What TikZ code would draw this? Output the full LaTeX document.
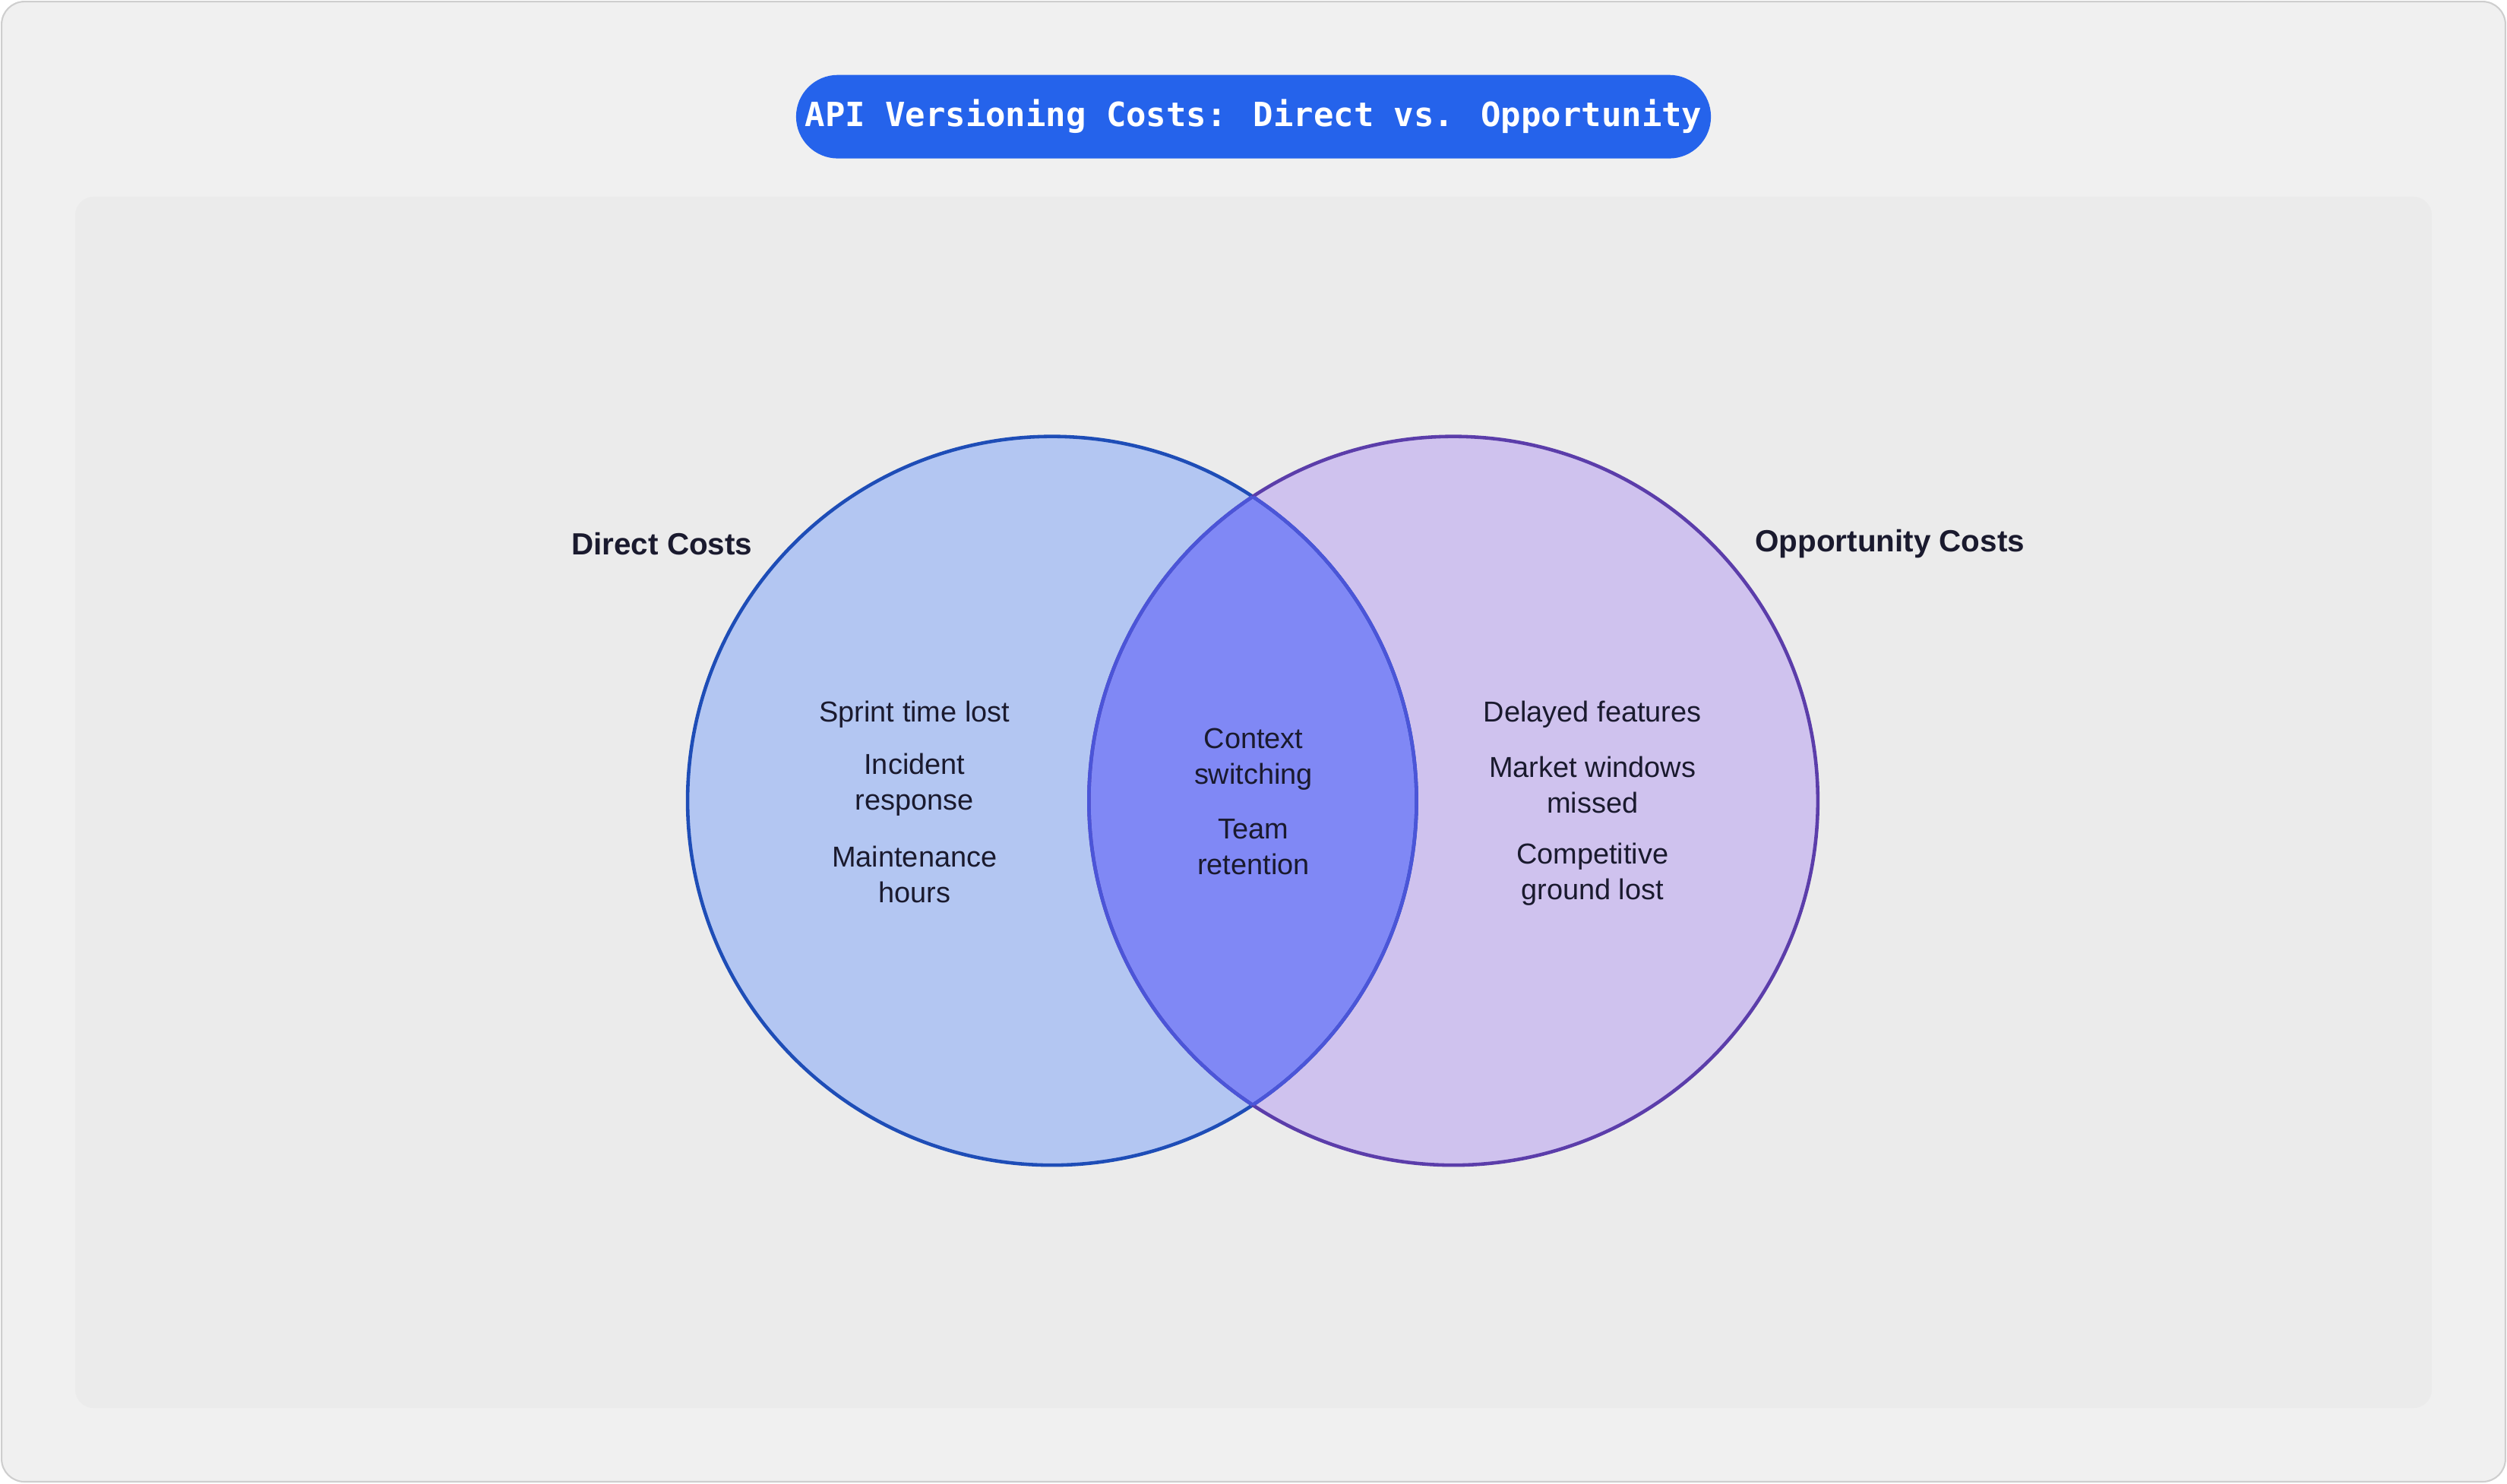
\documentclass[tikz,border=0pt]{standalone}
\usepackage{fontspec}
\setmainfont{Liberation Sans}
\newfontfamily\titlefont{DejaVu Sans Mono}
\usepackage{xcolor}
\definecolor{pagebg}{HTML}{F0F0F0}
\definecolor{panelbg}{HTML}{EBEBEB}
\definecolor{titleblue}{HTML}{2563EB}
\definecolor{directfill}{HTML}{B3C6F2}
\definecolor{directline}{HTML}{1E4DB7}
\definecolor{oppfill}{HTML}{CFC2EE}
\definecolor{oppline}{HTML}{5B3DAA}
\definecolor{bothfill}{HTML}{8088F5}
\definecolor{bothline}{HTML}{4B55D8}
\definecolor{txt}{HTML}{1A1A2E}
\tikzstyle{setlabel} = [font=\fontsize{11.5}{14}\selectfont\bfseries, text=txt]
\tikzstyle{item} = [font=\fontsize{10.8}{13.4}\selectfont, text=txt, align=center, inner sep=0pt]
\tikzstyle{pill} = [fill=titleblue, text=white, rounded corners=0.55cm, minimum width=12.04cm, minimum height=1.1cm, font=\titlefont\fontsize{12.5}{14}\selectfont\bfseries]

\begin{document}
\begin{tikzpicture}[x=0.02105cm, y=-0.02105cm]
\useasboundingbox (0,0) rectangle (1568,928);
\draw[pagebg!70!gray, fill=pagebg, rounded corners=0.3cm, line width=0.6pt] (1,1) rectangle (1567,927);
\fill[panelbg, rounded corners=0.25cm] (47,123) rectangle (1521,881);
\node[pill] (title) at (784,73) {API Versioning Costs: Direct vs. Opportunity};
% circles
\coordinate (dc) at (658,501);
\coordinate (oc) at (909,501);
\fill[directfill] (dc) circle [radius=4.8cm];
\fill[oppfill] (oc) circle [radius=4.8cm];
\begin{scope}
\clip (dc) circle [radius=4.8cm];
\fill[bothfill] (oc) circle [radius=4.8cm];
\end{scope}
\draw[directline, line width=1.3pt] (dc) circle [radius=4.8cm];
\draw[oppline, line width=1.3pt] (oc) circle [radius=4.8cm];
\begin{scope}
\clip (dc) circle [radius=4.8cm];
\draw[bothline, line width=1.3pt] (oc) circle [radius=4.8cm];
\end{scope}
\begin{scope}
\clip (oc) circle [radius=4.8cm];
\draw[bothline, line width=1.3pt] (dc) circle [radius=4.8cm];
\end{scope}
% labels
\node[setlabel] (direct) at (414,340) {Direct Costs};
\node[setlabel] (opp) at (1182,340) {Opportunity Costs};
\node[item] (sprint) at (572,447) {Sprint time lost};
\node[item] (incident) at (572,491) {Incident\\response};
\node[item] (maint) at (572,547) {Maintenance\\hours};
\node[item] (context) at (784,475) {Context\\switching};
\node[item] (team) at (784,530) {Team\\retention};
\node[item] (delayed) at (996,447) {Delayed features};
\node[item] (market) at (996,491) {Market windows\\missed};
\node[item] (compet) at (996,547) {Competitive\\ground lost};
\end{tikzpicture}
\end{document}
